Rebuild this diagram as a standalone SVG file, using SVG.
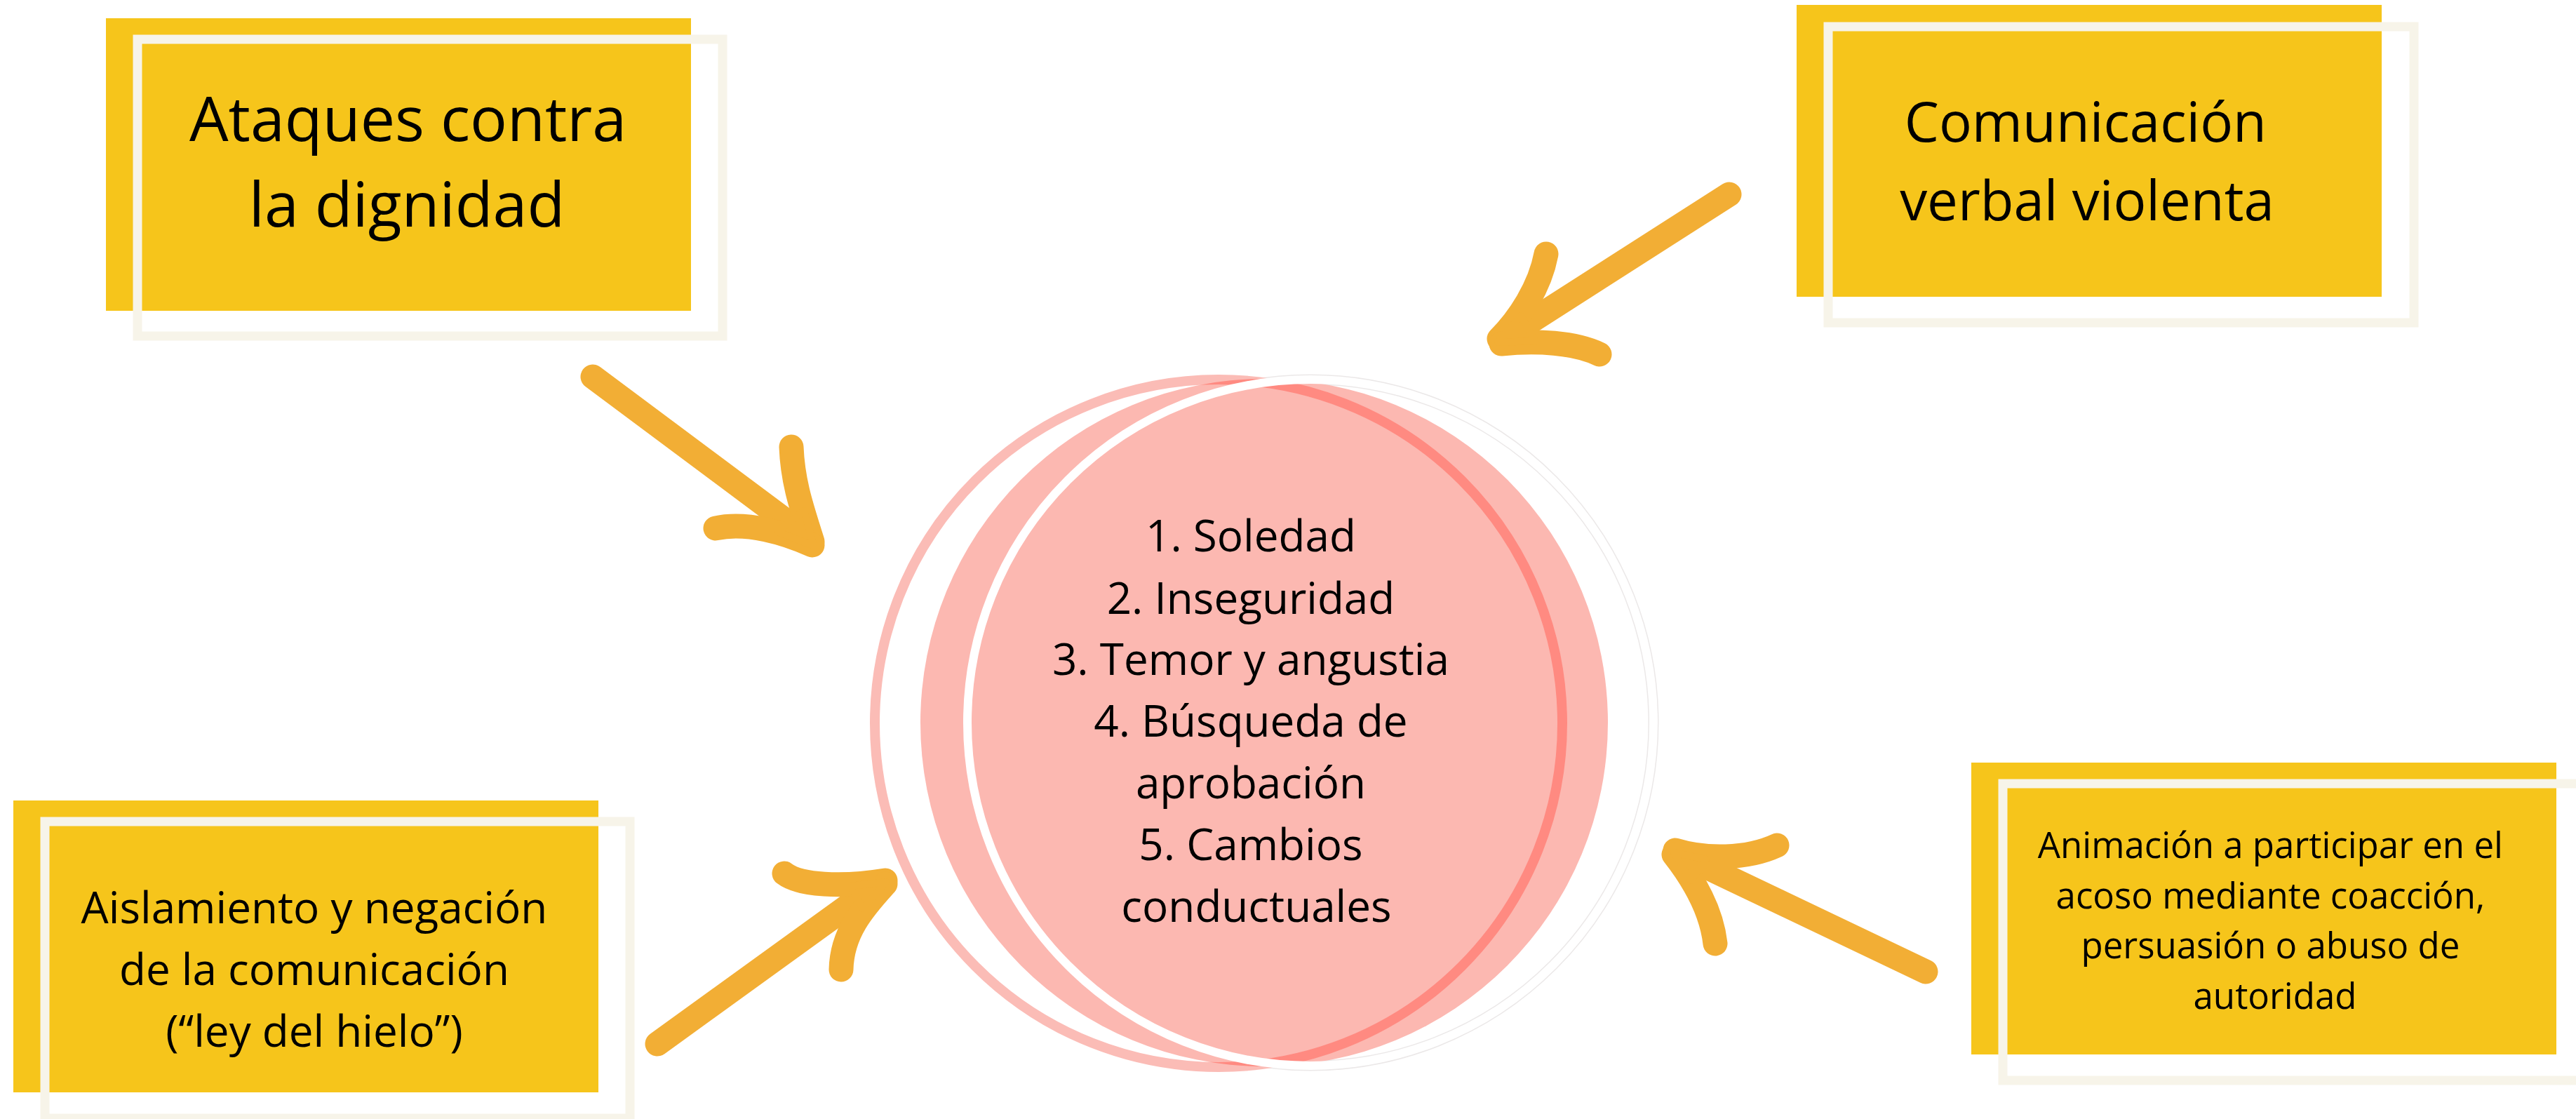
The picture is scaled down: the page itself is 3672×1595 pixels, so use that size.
<svg xmlns="http://www.w3.org/2000/svg" width="3672" height="1595" viewBox="0 0 3672 1595">
  <style>
    .card { fill: #F6C51B; }
    .frame { fill: none; stroke: #F7F4E9; stroke-width: 13; }
    .label { font-family: "Open Sans", "Liberation Sans", sans-serif; fill: #000000; text-anchor: middle; }
    .arrow { fill: none; stroke: #F2AE35; stroke-width: 35; stroke-linecap: round; stroke-linejoin: round; }
    .head { fill: #F2AE35; stroke: #F2AE35; stroke-width: 10; stroke-linejoin: round; }
  </style>
  <defs>
    <clipPath id="clip-core">
      <circle cx="1802" cy="1030" r="490"/>
    </clipPath>
  </defs>
  <rect width="3672" height="1595" fill="#FFFFFF"/>

  <!-- central node: overlapping circles with the list of effects -->
  <g id="node-efectos">
    <circle cx="1868" cy="1030" r="489" fill="none" stroke="#DAD5D5" stroke-opacity="0.55" stroke-width="15"/>
    <circle cx="1802" cy="1030" r="490" fill="#FCB8B1"/>
    <circle cx="1737" cy="1031" r="490" fill="none" stroke="#FBBCB6" stroke-width="14"/>
    <circle cx="1737" cy="1031" r="490" fill="none" stroke="#FF8A81" stroke-width="14" clip-path="url(#clip-core)"/>
    <circle cx="1868" cy="1030" r="489" fill="none" stroke="#FFFFFF" stroke-width="12"/>
    <text class="label" font-size="62">
      <tspan x="1791" y="786">1. Soledad</tspan>
      <tspan x="1791" y="875">2. Inseguridad</tspan>
      <tspan x="1791" y="962">3. Temor y angustia</tspan>
      <tspan x="1791" y="1050">4. Búsqueda de</tspan>
      <tspan x="1791" y="1138">aprobación</tspan>
      <tspan x="1791" y="1226">5. Cambios</tspan>
      <tspan x="1791" y="1314">conductuales</tspan>
    </text>
  </g>

  <!-- top-left card -->
  <g id="node-ataques">
    <rect class="card" x="151" y="26" width="834" height="417"/>
    <rect class="frame" x="196" y="56" width="834" height="423"/>
    <text class="label" font-size="88">
      <tspan x="593" y="201">Ataques contra</tspan>
      <tspan x="580" y="323">la dignidad</tspan>
    </text>
  </g>

  <!-- top-right card -->
  <g id="node-comunicacion">
    <rect class="card" x="2561" y="7" width="834" height="416"/>
    <rect class="frame" x="2606" y="38" width="835" height="422"/>
    <text class="label" font-size="78">
      <tspan x="2983" y="202">Comunicación</tspan>
      <tspan x="2975" y="314">verbal violenta</tspan>
    </text>
  </g>

  <!-- bottom-left card -->
  <g id="node-aislamiento">
    <rect class="card" x="19" y="1141" width="834" height="416"/>
    <rect class="frame" x="64" y="1171" width="834" height="423"/>
    <text class="label" font-size="62">
      <tspan x="456" y="1316">Aislamiento y negación</tspan>
      <tspan x="456" y="1404">de la comunicación</tspan>
      <tspan x="448" y="1492">(“ley del hielo”)</tspan>
    </text>
  </g>

  <!-- bottom-right card -->
  <g id="node-animacion">
    <rect class="card" x="2810" y="1087" width="834" height="416"/>
    <rect class="frame" x="2855" y="1117" width="835" height="423"/>
    <text class="label" font-size="51">
      <tspan x="3243" y="1223">Animación a participar en el</tspan>
      <tspan x="3243" y="1295">acoso mediante coacción,</tspan>
      <tspan x="3243" y="1366">persuasión o abuso de</tspan>
      <tspan x="3243" y="1438">autoridad</tspan>
    </text>
  </g>

  <!-- hand-drawn arrows pointing at the central circle -->
  <g id="connectors">
    <g id="arrow-ataques">
      <path class="arrow" d="M845,537 L1140,757"/>
      <path class="arrow" d="M1158,772 C1145,730 1130,690 1128,637"/>
      <path class="arrow" d="M1158,777 C1120,760 1065,743 1020,753"/>
      <polygon class="head" points="1160,778 1146,728 1108,758"/>
    </g>
    <g id="arrow-comunicacion">
      <path class="arrow" d="M2465,277 L2140,485"/>
      <path class="arrow" d="M2137,483 C2165,455 2195,410 2204,362"/>
      <path class="arrow" d="M2140,490 C2190,485 2245,488 2280,505"/>
      <polygon class="head" points="2135,488 2168,450 2188,486"/>
    </g>
    <g id="arrow-aislamiento">
      <path class="arrow" d="M937,1488 L1255,1258"/>
      <path class="arrow" d="M1262,1255 C1200,1265 1140,1262 1118,1245"/>
      <path class="arrow" d="M1262,1260 C1230,1295 1200,1330 1199,1382"/>
      <polygon class="head" points="1263,1257 1212,1263 1230,1295"/>
    </g>
    <g id="arrow-animacion">
      <path class="arrow" d="M2745,1385 L2395,1218"/>
      <path class="arrow" d="M2388,1212 C2430,1225 2490,1225 2533,1205"/>
      <path class="arrow" d="M2386,1218 C2415,1255 2440,1300 2445,1345"/>
      <polygon class="head" points="2386,1215 2432,1225 2410,1255"/>
    </g>
  </g>
</svg>
